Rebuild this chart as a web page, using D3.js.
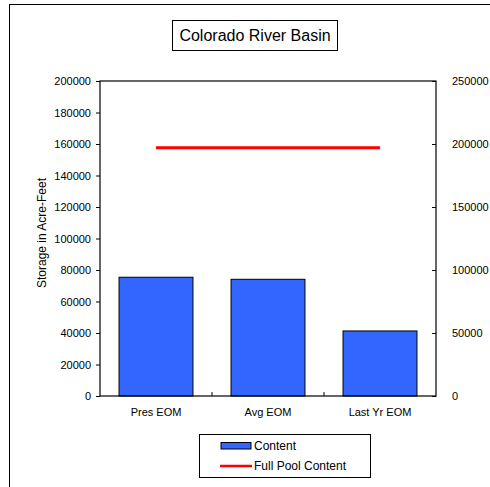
<!DOCTYPE html>
<html><head><meta charset="utf-8">
<script src="https://cdn.jsdelivr.net/npm/d3@7"></script>
<style>body{margin:0;background:#fff}svg{display:block}text{font-family:"Liberation Sans",Arial,sans-serif}</style>
</head><body>
<script>
const categories = ["Pres EOM", "Avg EOM", "Last Yr EOM"];
const content = [75400, 74100, 41300];
const fullPool = [197000, 197000, 197000];
const leftTicks = [0,20000,40000,60000,80000,100000,120000,140000,160000,180000,200000];
const rightTicks = [0,50000,100000,150000,200000,250000];

const W=490,H=487;
const svg=d3.select("body").append("svg").attr("width",W).attr("height",H);
svg.append("rect").attr("x",9.5).attr("y",4.5).attr("width",W).attr("height",H).attr("fill","#fff").attr("stroke","#000").attr("stroke-width",1);

const L=100,R=436,T=81,B=396;
const x=d3.scaleBand().domain(categories).range([L,R]).paddingInner(0.34).paddingOuter(0.17);
const xb=d3.scaleBand().domain(categories).range([L,R]);
const y=d3.scaleLinear().domain([0,200000]).range([B,T]);
const y2=d3.scaleLinear().domain([0,250000]).range([B,T]);

// bars
svg.selectAll("rect.bar").data(content).enter().append("rect")
  .attr("x",(d,i)=>x(categories[i])).attr("width",x.bandwidth())
  .attr("y",d=>y(d)).attr("height",d=>B-y(d))
  .attr("fill","#3366FF").attr("stroke","#000").attr("stroke-width",1);

// axes
const ax=svg.append("g").attr("font-size",11);
const gl=svg.append("g").attr("transform",`translate(${L},0)`).call(d3.axisLeft(y).tickValues(leftTicks).tickSize(4).tickPadding(5).tickFormat(d3.format("d")));
const gr=svg.append("g").attr("transform",`translate(${R},0)`).call(d3.axisRight(y2).tickValues(rightTicks).tickSize(-4).tickPadding(16).tickFormat(d3.format("d")));
const gb=svg.append("g").attr("transform",`translate(0,${B})`).call(d3.axisBottom(xb).tickSize(0).tickPadding(12));
[gl,gr,gb].forEach(g=>{g.selectAll("text").attr("font-size",11).attr("font-family","Liberation Sans, Arial, sans-serif").attr("fill","#000");g.selectAll("line,path").attr("stroke","#000");});
gl.select(".domain").remove();gr.select(".domain").remove();gb.select(".domain").remove();
// category boundary ticks
svg.selectAll("line.ct").data(categories.slice(1)).enter().append("line")
  .attr("x1",d=>xb(d)).attr("x2",d=>xb(d)).attr("y1",B).attr("y2",B-4).attr("stroke","#000");
// plot frame lines (top, left, right, bottom)
svg.append("rect").attr("x",L).attr("y",T).attr("width",R-L).attr("height",B-T).attr("fill","none").attr("stroke","#000").attr("stroke-width",1.2);

// full pool line (secondary axis)
const line=d3.line().x((d,i)=>xb(categories[i])+xb.bandwidth()/2).y(d=>y2(d));
svg.append("path").datum(fullPool).attr("d",line).attr("fill","none").attr("stroke","#FF0000").attr("stroke-width",3);

// y axis title
svg.append("text").attr("transform","translate(46,233) rotate(-90)").attr("text-anchor","middle").attr("font-size",12).text("Storage in Acre-Feet");

// title box
svg.append("rect").attr("x",172.5).attr("y",20.5).attr("width",165).attr("height",30).attr("fill","#fff").attr("stroke","#000");
svg.append("text").attr("x",255).attr("y",41).attr("text-anchor","middle").attr("font-size",16).text("Colorado River Basin");

// legend
const lg=svg.append("g");
lg.append("rect").attr("x",199.5).attr("y",434.5).attr("width",171).attr("height",43).attr("fill","#fff").attr("stroke","#000");
lg.append("rect").attr("x",221).attr("y",442.5).attr("width",30).attr("height",6.5).attr("fill","#3366FF").attr("stroke","#000");
lg.append("text").attr("x",254).attr("y",450).attr("font-size",12).text("Content");
lg.append("line").attr("x1",220).attr("x2",252).attr("y1",466).attr("y2",466).attr("stroke","#FF0000").attr("stroke-width",2.5);
lg.append("text").attr("x",254).attr("y",470).attr("font-size",12).text("Full Pool Content");
</script>
</body></html>
